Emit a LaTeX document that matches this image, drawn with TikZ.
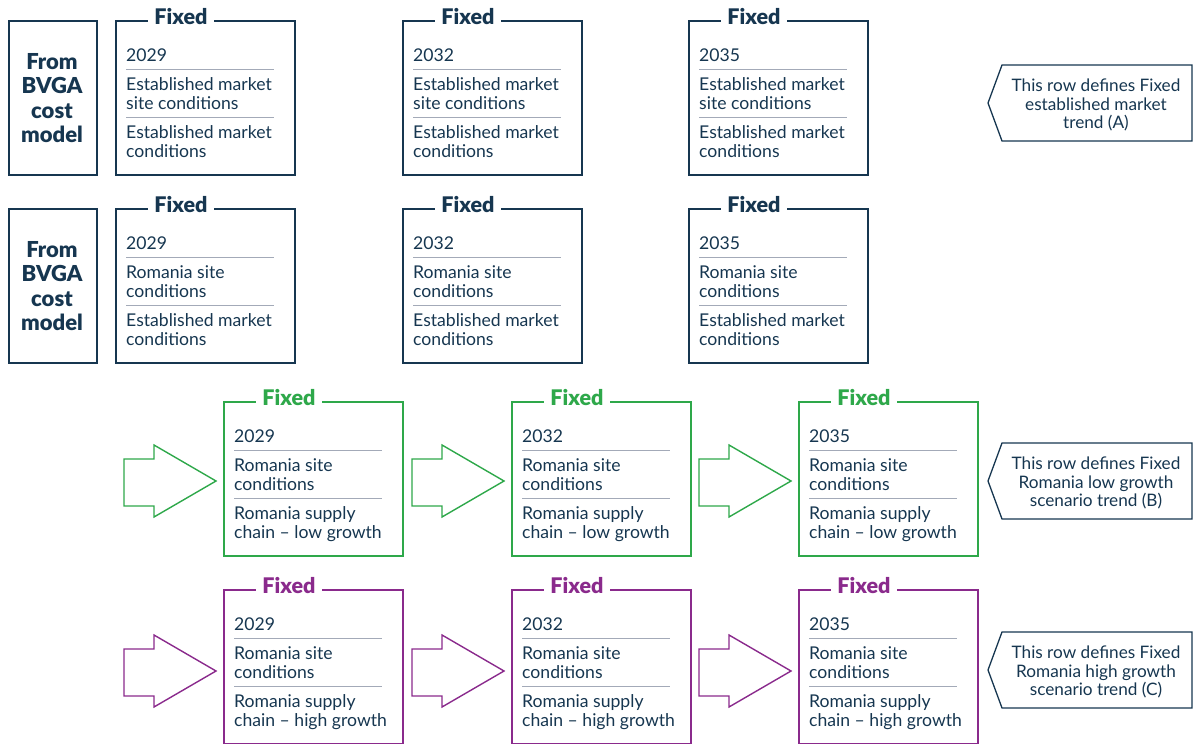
\documentclass[tikz,border=0pt]{standalone}
\usepackage{fontspec}
\setmainfont{Lato}[BoldFont={Lato Black}]
\definecolor{navy}{HTML}{163650}
\definecolor{grn}{HTML}{2EA84A}
\definecolor{prp}{HTML}{8A2A8C}
\definecolor{sepgray}{HTML}{A3AAB8}
\tikzset{
  frame/.style={draw=#1, line width=1.5pt, minimum width=179pt, minimum height=154pt, anchor=north west, inner sep=0pt},
  fixlabel/.style={text=#1, fill=white, inner xsep=6pt, inner ysep=0pt, font=\fontsize{21.5}{24}\selectfont\bfseries},
  bodytext/.style={text=navy, anchor=base west, inner sep=0pt, font=\fontsize{17.6}{19}\selectfont},
  sepline/.style={draw=sepgray, line width=1pt},
  blockarrow/.style={draw=#1, line width=1.4pt, line join=miter},
  notebox/.style={draw=navy, line width=1.3pt},
  notetext/.style={text=navy, align=center, inner sep=0pt, font=\fontsize{17.2}{18.8}\selectfont},
}
% one "Fixed" box: name, left x, top y, colour, year, two two-line entries
\newcommand\fixbox[9]{%
  \node[frame=#4] (#1) at (#2,#3) {};
  \node[fixlabel=#4] (#1-lab) at (#2+66,#3-3) {Fixed};
  \node[bodytext] (#1-yr) at (#2+11,#3+41) {#5};
  \draw[sepline] (#2+11,#3+49) -- (#2+159,#3+49);
  \node[bodytext] (#1-a1) at (#2+11,#3+70) {#6};
  \node[bodytext] (#1-a2) at (#2+11,#3+89) {#7};
  \draw[sepline] (#2+11,#3+97) -- (#2+159,#3+97);
  \node[bodytext] (#1-b1) at (#2+11,#3+118) {#8};
  \node[bodytext] (#1-b2) at (#2+11,#3+137) {#9};
}
% hollow block arrow pointing into the box whose left/top corner is given
\newcommand\intoarrow[3]{%
  \draw[blockarrow=#1] (#2-99,#3+60) -- (#2-69,#3+60) -- (#2-69,#3+46)
    -- (#2-7,#3+82) -- (#2-69,#3+118) -- (#2-69,#3+107) -- (#2-99,#3+107) -- cycle;
}
% left-pointing note tag at the right margin
\newcommand\notetag[3]{%
  \draw[notebox] (1002,#2) -- (1192,#2) -- (1192,#2+76) -- (1002,#2+76) -- (988,#2+38) -- cycle;
  \node[notetext] (#1) at (1096,#2+40) {#3};
}
\begin{document}
\begin{tikzpicture}[x=1pt,y=-1pt]
\useasboundingbox (0,0) rectangle (1194,744);

% source boxes
\foreach \y/\n in {20/s1,208/s2}{
  \node[frame=navy, minimum width=88pt] (\n) at (8,\y) {};
  \node[text=navy, align=center, inner sep=0pt, font=\fontsize{22}{24.5}\selectfont\bfseries] (\n-t) at (52,\y+78) {From\\BVGA\\cost\\model};
}

% row A: established market
\fixbox{a1}{115}{20}{navy}{2029}{Established market}{site conditions}{Established market}{conditions}
\fixbox{a2}{402}{20}{navy}{2032}{Established market}{site conditions}{Established market}{conditions}
\fixbox{a3}{688}{20}{navy}{2035}{Established market}{site conditions}{Established market}{conditions}

% row: Romania site, established market
\fixbox{r1}{115}{208}{navy}{2029}{Romania site}{conditions}{Established market}{conditions}
\fixbox{r2}{402}{208}{navy}{2032}{Romania site}{conditions}{Established market}{conditions}
\fixbox{r3}{688}{208}{navy}{2035}{Romania site}{conditions}{Established market}{conditions}

% row B: low growth
\fixbox{b1}{223}{401}{grn}{2029}{Romania site}{conditions}{Romania supply}{chain – low growth}
\fixbox{b2}{511}{401}{grn}{2032}{Romania site}{conditions}{Romania supply}{chain – low growth}
\fixbox{b3}{798}{401}{grn}{2035}{Romania site}{conditions}{Romania supply}{chain – low growth}
\intoarrow{grn}{223}{399}
\intoarrow{grn}{511}{399}
\intoarrow{grn}{798}{399}

% row C: high growth
\fixbox{c1}{223}{589}{prp}{2029}{Romania site}{conditions}{Romania supply}{chain – high growth}
\fixbox{c2}{511}{589}{prp}{2032}{Romania site}{conditions}{Romania supply}{chain – high growth}
\fixbox{c3}{798}{589}{prp}{2035}{Romania site}{conditions}{Romania supply}{chain – high growth}
\intoarrow{prp}{223}{589}
\intoarrow{prp}{511}{589}
\intoarrow{prp}{798}{589}

% notes
\notetag{na}{65}{This row defines Fixed\\established market\\trend (A)}
\notetag{nb}{443}{This row defines Fixed\\Romania low growth\\scenario trend (B)}
\notetag{nc}{632}{This row defines Fixed\\Romania high growth\\scenario trend (C)}
\end{tikzpicture}
\end{document}
